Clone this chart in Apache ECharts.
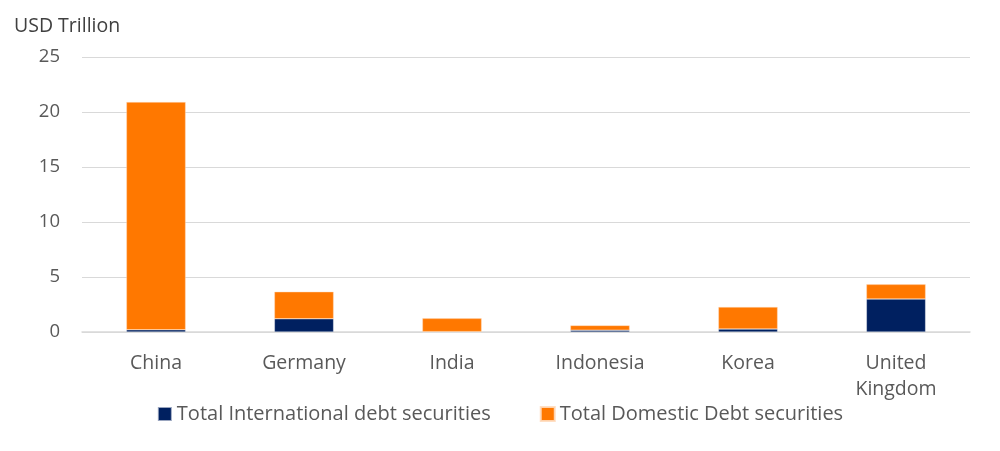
<!DOCTYPE html>
<html><head><meta charset="utf-8">
<script src="https://cdn.jsdelivr.net/npm/echarts@6/dist/echarts.min.js"></script>
<style>html,body{margin:0;padding:0;background:#fff}#c{width:1000px;height:451px}</style>
</head><body><div id="c"></div>
<script>
const categories = ['China', 'Germany', 'India', 'Indonesia', 'Korea', 'United\nKingdom'];
const international = [0.2, 1.2, 0.03, 0.17, 0.27, 3.0];
const domestic = [20.7, 2.46, 1.21, 0.43, 2.0, 1.33];
const yTicks = {min: 0, max: 25, interval: 5};
const font = '"Open Sans", Lato, sans-serif';
const chart = echarts.init(document.getElementById('c'));
chart.setOption({
  animation: false,
  textStyle: {fontFamily: font},
  grid: {left: 82, right: 30, top: 57, bottom: 119},
  graphic: [{type: 'text', left: 14, top: 16, style: {text: 'USD Trillion', font: '19.5px ' + font, fill: '#404040'}}],
  legend: {
    bottom: 22, left: 'center', itemWidth: 14, itemHeight: 14, itemGap: 49, icon: 'rect',
    textStyle: {fontSize: 20, color: '#595959', fontFamily: font},
    data: ['Total International debt securities', 'Total Domestic Debt securities']
  },
  xAxis: {
    type: 'category', data: categories,
    axisLine: {lineStyle: {color: '#d9d9d9', width: 1.5}},
    axisTick: {show: false},
    axisLabel: {fontSize: 19.5, color: '#595959', margin: 18, lineHeight: 26, fontFamily: font}
  },
  yAxis: {
    type: 'value', min: yTicks.min, max: yTicks.max, interval: yTicks.interval,
    axisLabel: {fontSize: 18.5, color: '#595959', margin: 22, fontFamily: font},
    splitLine: {lineStyle: {color: '#d9d9d9', width: 1}},
    axisLine: {show: false}, axisTick: {show: false}
  },
  series: [
    {name: 'Total International debt securities', type: 'bar', stack: 't', data: international, barWidth: '40%',
     itemStyle: {color: '#002060', borderColor: 'rgba(255,255,255,0.6)', borderWidth: 0.5}},
    {name: 'Total Domestic Debt securities', type: 'bar', stack: 't', data: domestic, barWidth: '40%',
     itemStyle: {color: '#FF7800', borderColor: 'rgba(255,220,190,0.9)', borderWidth: 0.5}}
  ]
});
</script></body></html>
